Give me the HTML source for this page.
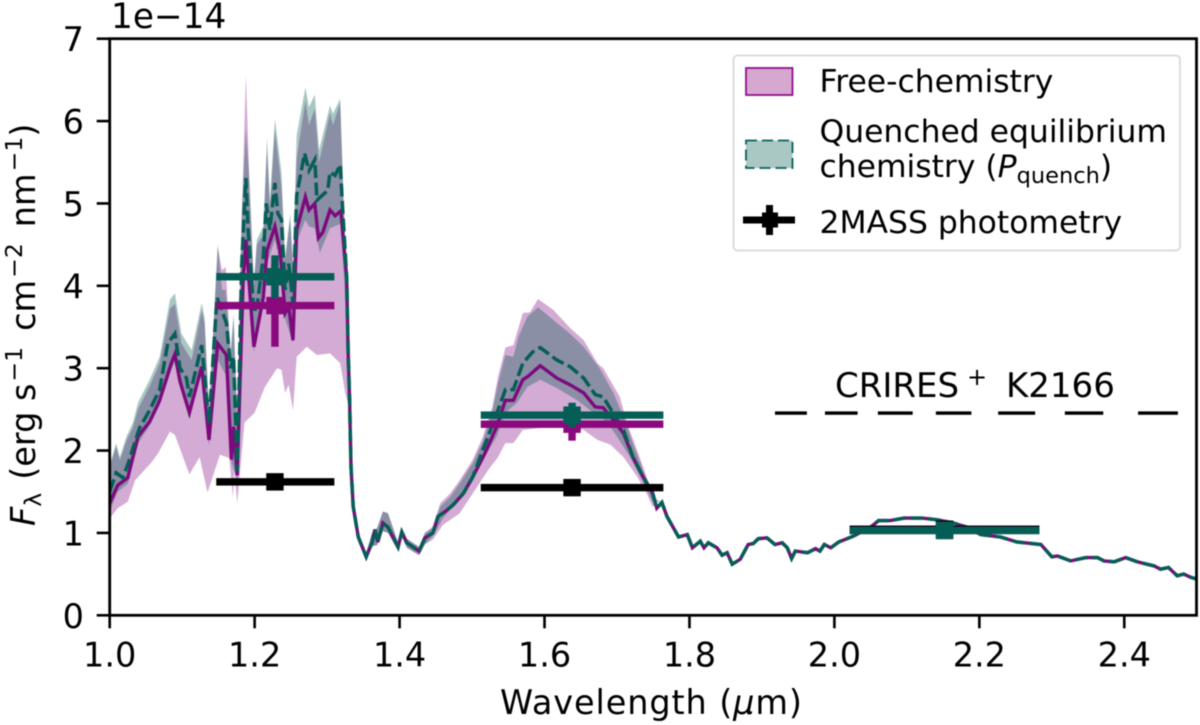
<!DOCTYPE html>
<html lang="en">
<head>
<meta charset="utf-8">
<title>Spectrum chart</title>
<style>
html,body{margin:0;padding:0;background:#fff;}
svg{display:block;font-family:"DejaVu Sans","Liberation Sans",sans-serif;fill:#000;filter:blur(0.4px);}
</style>
</head>
<body>
<svg id="chart" xmlns="http://www.w3.org/2000/svg" width="1200" height="725" viewBox="0 0 1200 725">
  <defs><clipPath id="plot-clip"><rect x="109.7" y="38.7" width="1086.8" height="576.6"/></clipPath></defs>
  <rect x="0" y="0" width="1200" height="725" fill="#fff"/>
  <g id="marks" clip-path="url(#plot-clip)"></g>
  <g id="axes"></g>
  <text x="111" y="28" font-size="34.3">1e−14</text>
  <text x="500" y="714" font-size="33.5" textLength="302" lengthAdjust="spacing">Wavelength (<tspan font-style="italic">μ</tspan>m)</text>
  <text transform="translate(35,526) rotate(-90)" font-size="33.5"><tspan font-style="italic">F</tspan><tspan font-size="23.5" dy="6">λ</tspan><tspan dy="-6" dx="13">(erg s</tspan><tspan font-size="23.5" dy="-13" dx="2">−1</tspan><tspan dy="13" dx="16">cm</tspan><tspan font-size="23.5" dy="-13" dx="2">−2</tspan><tspan dy="13" dx="16">nm</tspan><tspan font-size="23.5" dy="-13" dx="2">−1</tspan><tspan dy="13">)</tspan></text>
  <g>
    <text x="835" y="397" font-size="34">CRIRES</text>
    <text x="967" y="385" font-size="24">+</text>
    <text x="1006" y="397" font-size="34">K2166</text>
  </g>
  <g>
    <rect x="733.5" y="55.5" width="446.5" height="195" rx="4" fill="#fff" fill-opacity="0.85" stroke="#dcdcdc" stroke-width="2"/>
    <rect x="746" y="68" width="46.5" height="27" fill="#d6a7cf" stroke="#93108a" stroke-width="1.8"/>
    <text x="819.5" y="92" font-size="31.4">Free-chemistry</text>
    <rect x="746" y="140.5" width="46.5" height="27.5" fill="#a9c7c3" stroke="#0a5f58" stroke-width="1.8" stroke-dasharray="11 5"/>
    <text x="819.5" y="142" font-size="31.4">Quenched equilibrium</text>
    <text x="819.5" y="177" font-size="31.4">chemistry (<tspan font-style="italic">P</tspan><tspan font-size="22.5" dy="6">quench</tspan><tspan dy="-6">)</tspan></text>
    <rect x="743" y="216.5" width="52" height="7" fill="#000"/>
    <rect x="766" y="205" width="7" height="30" fill="#000"/>
    <rect x="762" y="212.5" width="16" height="15" fill="#000"/>
    <text x="819.5" y="233" font-size="31.4">2MASS photometry</text>
  </g>
</svg>
<script>
// ---- tick labels ----
const xTickValues = [1.0,1.2,1.4,1.6,1.8,2.0,2.2,2.4];
const xTickLabels = ["1.0","1.2","1.4","1.6","1.8","2.0","2.2","2.4"];
const yTickValues = [0,1,2,3,4,5,6,7];
const yTickLabels = ["0","1","2","3","4","5","6","7"];

// ---- median spectra: J band, H band, and the regions where both models coincide ----
const freeJWave = [1.0,1.002,1.011,1.025,1.039,1.055,1.069,1.085,1.09,1.097,1.11,1.127,1.137,1.149,1.161,1.168,1.171,1.176,1.184,1.188,1.199,1.212,1.217,1.228,1.235,1.242,1.247,1.253,1.258,1.27,1.275,1.283,1.288,1.294,1.304,1.311,1.319,1.327];
const freeJFlux = [1.45,1.40,1.58,1.67,2.17,2.35,2.61,3.06,3.17,2.84,2.46,3.02,2.13,3.30,3.16,1.89,2.29,1.70,4.03,4.56,3.26,3.86,4.43,4.72,4.43,3.67,3.75,3.34,4.68,5.08,4.92,5.00,4.58,4.65,4.92,4.85,4.91,4.1];
const quenchJWave = [1.0,1.002,1.009,1.018,1.025,1.035,1.041,1.055,1.069,1.08,1.09,1.097,1.106,1.11,1.127,1.137,1.148,1.161,1.167,1.171,1.176,1.182,1.188,1.191,1.199,1.204,1.212,1.216,1.221,1.228,1.232,1.237,1.242,1.247,1.253,1.258,1.269,1.275,1.283,1.286,1.301,1.304,1.311,1.318,1.322,1.327];
const quenchJFlux = [1.5,1.55,1.73,1.67,1.83,2.11,2.27,2.49,2.74,3.30,3.42,3.0,2.88,2.65,3.28,2.33,3.86,3.55,3.0,3.14,1.75,4.23,5.31,4.68,3.67,3.79,4.35,5.0,4.68,5.25,4.88,4.80,3.95,4.27,3.79,5.10,5.61,5.40,5.53,5.04,5.16,5.38,5.34,5.47,4.84,4.1];
const commonMidWave = [1.329,1.331,1.333,1.336,1.343,1.354,1.362,1.366,1.37,1.377,1.384,1.398,1.403,1.41,1.427,1.435,1.446,1.453,1.463,1.474,1.488,1.501];
const commonMidFlux = [3.22,2.61,1.80,1.32,.95,.71,.88,1.04,.89,1.12,1.07,.83,1.01,.88,.78,.94,1.0,1.2,1.26,1.34,1.48,1.68];
const freeHWave = [1.518,1.534,1.546,1.557,1.57,1.577,1.594,1.617,1.635,1.654,1.67,1.681,1.695,1.709];
const freeHFlux = [1.97,2.29,2.61,2.61,2.86,2.90,3.03,2.88,2.80,2.70,2.53,2.52,2.37,2.21];
const quenchHWave = [1.515,1.53,1.546,1.557,1.57,1.584,1.594,1.617,1.635,1.654,1.67,1.681,1.695,1.709];
const quenchHFlux = [2.01,2.35,2.74,2.74,3.06,3.2,3.25,3.10,3.02,2.88,2.68,2.65,2.45,2.25];
const commonHEndWave = [1.722,1.736,1.749,1.755];
const commonHEndFlux = [1.92,1.68,1.49,1.30];
const commonTailWave = [1.762,1.769,1.785,1.797,1.804,1.815,1.82,1.826,1.838,1.845,1.852,1.859,1.87,1.881,1.888,1.895,1.907,1.918,1.928,1.935,1.941,1.946,1.963,1.974,1.98,1.986,1.995,2.006,2.026,2.05,2.061,2.077,2.096,2.121,2.142,2.164,2.183,2.202,2.229,2.252,2.285,2.3,2.308,2.326,2.347,2.363,2.372,2.386,2.402,2.418,2.441,2.45,2.461,2.473,2.482,2.492,2.5];
const commonTailFlux = [1.37,1.20,.95,.98,.82,.90,.82,.88,.82,.73,.76,.62,.68,.86,.87,.93,.94,.86,.88,.82,.69,.78,.76,.81,.78,.86,.82,.89,.96,1.07,1.15,1.15,1.18,1.18,1.16,1.12,1.07,.98,.95,.89,.86,.71,.72,.66,.70,.70,.66,.65,.70,.65,.60,.56,.58,.48,.50,.46,.44];

// ---- uncertainty envelopes ----
const jBandWave = [1.0,1.002,1.009,1.014,1.023,1.032,1.039,1.055,1.069,1.083,1.09,1.099,1.113,1.127,1.131,1.137,1.149,1.155,1.16,1.167,1.171,1.176,1.182,1.188,1.193,1.199,1.203,1.212,1.217,1.221,1.228,1.237,1.242,1.249,1.253,1.258,1.27,1.275,1.283,1.289,1.304,1.308,1.318,1.322,1.327];
const freeUpperJFlux = [1.75,1.85,2.05,1.88,2.12,2.28,2.5,2.78,3.06,3.72,3.78,3.3,3.1,3.7,3.55,2.46,4.48,4.19,4.23,3.15,3.6,2.35,4.8,6.56,5.2,4.0,4.5,4.62,5.65,4.95,5.9,5.2,4.3,4.8,4.2,5.55,6.25,5.95,6.15,5.5,6.1,5.95,6.22,5.2,4.0];
const quenchUpperJFlux = [1.8,1.89,2.09,1.92,2.17,2.34,2.58,2.86,3.14,3.83,3.91,3.42,3.22,3.79,3.62,2.5,4.5,3.95,3.95,3.22,3.67,2.4,4.84,5.9,5.25,4.03,4.56,4.72,5.81,5.04,6.03,5.37,4.35,4.88,4.27,5.83,6.41,6.17,6.32,5.65,6.19,6.09,6.27,5.24,4.03];
const freeLowerJWave = [1.0,1.002,1.011,1.025,1.035,1.058,1.067,1.083,1.09,1.11,1.124,1.135,1.152,1.165,1.17,1.172,1.176,1.186,1.2,1.214,1.231,1.237,1.242,1.247,1.253,1.258,1.272,1.286,1.304,1.318,1.325,1.331];
const freeLowerJFlux = [1.25,1.20,1.30,1.38,1.64,1.86,1.97,2.23,2.19,1.71,1.92,1.49,1.95,1.91,1.43,1.76,1.36,2.34,2.46,2.77,3.00,2.98,2.70,2.8,2.49,3.14,3.26,3.16,3.18,3.06,2.7,2.5];
const quenchLowerJWave = [1.0,1.002,1.011,1.025,1.04,1.055,1.069,1.085,1.09,1.11,1.127,1.137,1.149,1.161,1.168,1.176,1.188,1.199,1.212,1.217,1.228,1.235,1.242,1.253,1.259,1.27,1.275,1.283,1.29,1.304,1.318,1.324,1.329];
const quenchLowerJFlux = [1.35,1.3,1.5,1.6,2.1,2.3,2.55,2.98,3.07,2.4,2.95,2.05,3.1,2.9,1.85,1.65,4.43,3.2,3.75,4.27,4.56,4.25,3.6,3.3,4.56,4.8,4.72,4.7,4.4,4.7,4.75,4.0,3.1];
const midBandWave = [1.333,1.336,1.343,1.354,1.362,1.369,1.377,1.384,1.398,1.403,1.41,1.427,1.435];
const midUpperFlux = [1.9,1.4,1.0,.76,1.0,1.06,1.26,1.24,.88,1.06,.93,.83,1.0];
const midLowerFlux = [1.75,1.25,.9,.66,.84,.85,1.02,1.0,.78,.96,.82,.73,.86];
const freeUpperHWave = [1.446,1.456,1.47,1.483,1.501,1.515,1.528,1.536,1.546,1.557,1.57,1.58,1.591,1.612,1.635,1.654,1.673,1.681,1.704,1.714,1.728,1.741,1.755];
const freeUpperHFlux = [1.08,1.36,1.48,1.64,1.89,2.17,2.53,2.9,3.25,3.28,3.67,3.68,3.84,3.71,3.49,3.34,3.06,3.0,2.65,2.33,2.0,1.68,1.35];
const quenchUpperHWave = [1.446,1.456,1.47,1.483,1.501,1.515,1.528,1.536,1.546,1.557,1.564,1.576,1.591,1.617,1.635,1.654,1.676,1.695,1.709,1.722,1.736,1.749];
const quenchUpperHFlux = [1.06,1.32,1.44,1.6,1.85,2.11,2.47,2.82,3.16,3.14,3.38,3.62,3.74,3.55,3.42,3.26,3.0,2.7,2.41,2.09,1.76,1.44];
const freeLowerHWave = [1.446,1.46,1.483,1.501,1.522,1.536,1.546,1.557,1.57,1.589,1.617,1.654,1.673,1.691,1.709,1.728,1.741,1.749];
const freeLowerHFlux = [.92,1.10,1.24,1.48,1.76,1.92,2.09,2.09,2.25,2.27,2.29,2.25,2.13,2.07,1.92,1.68,1.48,1.32];
const quenchLowerHWave = [1.446,1.46,1.483,1.50,1.515,1.534,1.546,1.562,1.576,1.594,1.617,1.645,1.667,1.686,1.70,1.718,1.736,1.749];
const quenchLowerHFlux = [.96,1.18,1.42,1.62,1.89,2.17,2.46,2.58,2.77,2.86,2.76,2.61,2.46,2.35,2.17,1.92,1.62,1.38];

// ---- 2MASS photometry: J, H, Ks ----
const bandCenter = [1.228,1.638,2.152];
const bandLow = [1.147,1.512,2.021];
const bandHigh = [1.310,1.764,2.283];
const photBlack = [1.62,1.55,1.045];
const photFree = [3.76,2.32,1.03];
const photQuench = [4.11,2.43,1.03];
const photFreeErr = [0.5,0.2,0.01];
const photQuenchErr = [0.26,0.15,0.01];
const photBlackErr = [0.05,0.04,0.01];

// ---- CRIRES+ K2166 spectral orders ----
const criresStart = [1.918,1.987,2.060,2.140,2.226,2.318,2.419];
const criresEnd = [1.962,2.032,2.108,2.189,2.277,2.371,2.474];
const criresLevel = 2.455;

// ---- axis functions ----
const X0 = 109.7, XPER = 724.7, Y0 = 615.3, YPER = 82.37;
function xScale(w){ return X0 + (w - 1.0) * XPER; }
function yScale(v){ return Y0 - v * YPER; }

const NS = "http://www.w3.org/2000/svg";
const marks = document.getElementById("marks");
const axes = document.getElementById("axes");
function pts(wave, flux){
  return wave.map(function(w,i){ return xScale(w).toFixed(1) + "," + yScale(flux[i]).toFixed(1); });
}
function makeRect(parent, x, y, w, h, fill){
  const r = document.createElementNS(NS, "rect");
  r.setAttribute("x", x); r.setAttribute("y", y);
  r.setAttribute("width", w); r.setAttribute("height", h);
  r.setAttribute("fill", fill);
  parent.appendChild(r);
  return r;
}

// ---- assemble curves ----
const freeWave = freeJWave.concat(commonMidWave, freeHWave, commonHEndWave, commonTailWave);
const freeFlux = freeJFlux.concat(commonMidFlux, freeHFlux, commonHEndFlux, commonTailFlux);
const quenchWave = quenchJWave.concat(commonMidWave, quenchHWave, commonHEndWave, commonTailWave);
const quenchFlux = quenchJFlux.concat(commonMidFlux, quenchHFlux, commonHEndFlux, commonTailFlux);

function bandPoints(upW, upF, loW, loF){
  return pts(upW, upF).concat(pts(loW, loF).reverse()).join(" ");
}
const freeBand = document.createElementNS(NS, "polygon");


freeBand.setAttribute("points", bandPoints(
  jBandWave.concat(midBandWave, freeUpperHWave, commonTailWave),
  freeUpperJFlux.concat(midUpperFlux, freeUpperHFlux, commonTailFlux),
  freeLowerJWave.concat(midBandWave, freeLowerHWave, commonTailWave),
  freeLowerJFlux.concat(midLowerFlux, freeLowerHFlux, commonTailFlux)));
freeBand.setAttribute("fill", "#800a80");
freeBand.setAttribute("fill-opacity", "0.34");
marks.appendChild(freeBand);

const quenchBand = document.createElementNS(NS, "polygon");


quenchBand.setAttribute("points", bandPoints(
  jBandWave.concat(midBandWave, quenchUpperHWave, commonTailWave),
  quenchUpperJFlux.concat(midUpperFlux, quenchUpperHFlux, commonTailFlux),
  quenchLowerJWave.concat(midBandWave, quenchLowerHWave, commonTailWave),
  quenchLowerJFlux.concat(midLowerFlux, quenchLowerHFlux, commonTailFlux)));
quenchBand.setAttribute("fill", "#005a50");
quenchBand.setAttribute("fill-opacity", "0.34");
marks.appendChild(quenchBand);

const freeLine = document.createElementNS(NS, "polyline");


freeLine.setAttribute("points", pts(freeWave, freeFlux).join(" "));
freeLine.setAttribute("fill", "none");
freeLine.setAttribute("stroke", "#7d0a7d");
freeLine.setAttribute("stroke-width", "3.4");
marks.appendChild(freeLine);

const quenchLine = document.createElementNS(NS, "polyline");


quenchLine.setAttribute("points", pts(quenchWave, quenchFlux).join(" "));
quenchLine.setAttribute("fill", "none");
quenchLine.setAttribute("stroke", "#065e56");
quenchLine.setAttribute("stroke-width", "3.5");
quenchLine.setAttribute("stroke-dasharray", "13 4.5");
marks.appendChild(quenchLine);

// ---- photometry error bars ----
function drawPhot(values, errs, color, kind){
  for (let i = 0; i < bandCenter.length; i++){
    const g = document.createElementNS(NS, "g");
    
    
    const xa = xScale(bandLow[i]), xb = xScale(bandHigh[i]), xc = xScale(bandCenter[i]), yc = yScale(values[i]);
    makeRect(g, xa, yc - 3.7, xb - xa, 7.4, color);
    const yt = yScale(values[i] + errs[i]), yb = yScale(values[i] - errs[i]);
    makeRect(g, xc - 3.7, yt, 7.4, yb - yt, color);
    makeRect(g, xc - 8.7, yc - 8.7, 17.4, 17.4, color);
    marks.appendChild(g);
  }
}
drawPhot(photBlack, photBlackErr, "#000000", "2mass");
drawPhot(photFree, photFreeErr, "#8a0a7e", "free-chemistry");
drawPhot(photQuench, photQuenchErr, "#055e56", "quenched-chemistry");

// ---- CRIRES order segments ----
for (let i = 0; i < criresStart.length; i++){
  const seg = makeRect(marks, xScale(criresStart[i]), yScale(criresLevel) - 1.7, xScale(criresEnd[i]) - xScale(criresStart[i]), 3.4, "#000");
  
  
}

// ---- axes ----
const frame = document.createElementNS(NS, "rect");


frame.setAttribute("x", X0);
frame.setAttribute("y", 38.7);
frame.setAttribute("width", 1086.8);
frame.setAttribute("height", 576.6);
frame.setAttribute("fill", "none");
frame.setAttribute("stroke", "#000");
frame.setAttribute("stroke-width", "2.8");
axes.appendChild(frame);

xTickValues.forEach(function(v, i){
  const px = xScale(v);
  const t = makeRect(axes, px - 1.3, Y0, 2.6, 13, "#000");
  
  
  const lab = document.createElementNS(NS, "text");
  
  
  lab.setAttribute("x", px);
  lab.setAttribute("y", 666.7);
  lab.setAttribute("text-anchor", "middle");
  lab.setAttribute("font-size", "33.5");
  lab.textContent = xTickLabels[i];
  axes.appendChild(lab);
});
yTickValues.forEach(function(v, i){
  const py = yScale(v);
  const t = makeRect(axes, X0 - 13, py - 1.3, 13, 2.6, "#000");
  
  
  const lab = document.createElementNS(NS, "text");
  
  
  lab.setAttribute("x", 84);
  lab.setAttribute("y", py + 12.5);
  lab.setAttribute("text-anchor", "end");
  lab.setAttribute("font-size", "33.5");
  lab.textContent = yTickLabels[i];
  axes.appendChild(lab);
});
</script>
</body>
</html>
